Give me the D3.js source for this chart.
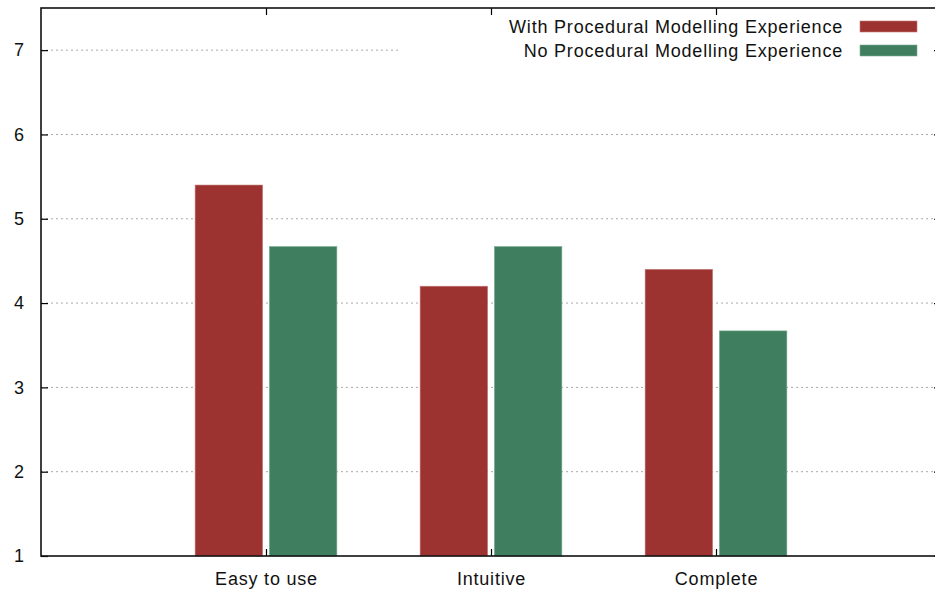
<!DOCTYPE html>
<html>
<head>
<meta charset="utf-8">
<script src="https://cdn.jsdelivr.net/npm/d3@7"></script>
<style>
  html, body { margin: 0; padding: 0; background: #fff; }
  svg { display: block; font-family: "Liberation Sans", Arial, sans-serif; }
</style>
</head>
<body>
<svg id="chart" width="935" height="592"></svg>
<script>
// Survey ratings by experience group
const categories = ["Easy to use", "Intuitive", "Complete"];
const seriesNames = ["With Procedural Modelling Experience", "No Procedural Modelling Experience"];
const withExperience = [5.4, 4.2, 4.4];
const noExperience = [4.67, 4.67, 3.67];
const yTicks = [1, 2, 3, 4, 5, 6, 7];
const colors = ["#9d3330", "#3f7f60"];

const svg = d3.select("#chart");
const plotLeft = 41, plotRight = 941, plotTop = 8, plotBottom = 556;

// Numeric x positions: categories sit at 0,1,2 on a [-1,3] range
const x = d3.scaleLinear().domain([-1, 3]).range([plotLeft, plotRight]);
const y = d3.scaleLinear().domain([1, 7.5]).range([plotBottom, plotTop]);

const barW = 0.3, barGap = 0.015;
const labelFont = { size: 18, spacing: 0.8 };

// Grid lines
svg.append("g").selectAll("line")
  .data(yTicks.filter(d => d > 1))
  .join("line")
  .attr("x1", plotLeft).attr("x2", plotRight)
  .attr("y1", d => y(d)).attr("y2", d => y(d))
  .attr("stroke", "#a8a8a8").attr("stroke-width", 1)
  .attr("stroke-dasharray", "2,3");

// Bars
const series = [withExperience, noExperience];
series.forEach((vals, s) => {
  svg.append("g").selectAll("rect")
    .data(vals)
    .join("rect")
    .attr("x", (d, i) => s === 0 ? x(i - barGap - barW) : x(i + barGap))
    .attr("width", x(barW) - x(0))
    .attr("y", d => y(d))
    .attr("height", d => y(1) - y(d))
    .attr("fill", colors[s])
    .attr("stroke", s === 0 ? "#c47a77" : "#80ab95")
    .attr("stroke-width", 0.6);
});

// Legend box (opaque, hides grid behind it)
svg.append("rect")
  .attr("x", 400).attr("y", plotTop).attr("width", plotRight - 400).attr("height", 58)
  .attr("fill", "#fff");

const legend = svg.append("g");
seriesNames.forEach((name, i) => {
  const cy = 26.5 + i * 24;
  legend.append("text")
    .attr("x", 843).attr("y", cy + 6.5)
    .attr("text-anchor", "end")
    .attr("font-size", labelFont.size)
    .attr("letter-spacing", labelFont.spacing)
    .attr("fill", "#111")
    .text(name);
  legend.append("rect")
    .attr("x", 860).attr("y", cy - 5.5).attr("width", 57).attr("height", 11)
    .attr("fill", colors[i])
    .attr("stroke", i === 0 ? "#c47a77" : "#80ab95")
    .attr("stroke-width", 0.6);
});

// Axes
const yAxis = d3.axisLeft(y).tickValues(yTicks).tickSize(-7).tickPadding(17).tickFormat(d3.format("d"));
const gy = svg.append("g").attr("transform", `translate(${plotLeft},0)`).call(yAxis);
gy.select(".domain").remove();
gy.selectAll(".tick line").attr("stroke", "#000").attr("stroke-width", 1.2);
gy.selectAll(".tick text").attr("font-size", labelFont.size).attr("fill", "#111")
  .attr("font-family", "Liberation Sans, Arial, sans-serif");

// Mirrored ticks on the right border
const gyr = svg.append("g").attr("transform", `translate(${plotRight},0)`)
  .call(d3.axisRight(y).tickValues(yTicks).tickSize(-7).tickFormat(""));
gyr.select(".domain").remove();
gyr.selectAll(".tick line").attr("stroke", "#000").attr("stroke-width", 1.2);

const xAxis = d3.axisBottom(x).tickValues([0, 1, 2]).tickSize(-7).tickPadding(16)
  .tickFormat(d => categories[d]);
const gx = svg.append("g").attr("transform", `translate(0,${plotBottom})`).call(xAxis);
gx.select(".domain").remove();
gx.selectAll(".tick line").attr("stroke", "#000").attr("stroke-width", 1.2);
gx.selectAll(".tick text").attr("font-size", labelFont.size).attr("fill", "#111")
  .attr("letter-spacing", labelFont.spacing)
  .attr("font-family", "Liberation Sans, Arial, sans-serif");

// Mirrored ticks on the top border
const gxt = svg.append("g").attr("transform", `translate(0,${plotTop})`)
  .call(d3.axisTop(x).tickValues([0, 1, 2]).tickSize(-7).tickFormat(""));
gxt.select(".domain").remove();
gxt.selectAll(".tick line").attr("stroke", "#000").attr("stroke-width", 1.2);

// Frame
svg.append("rect")
  .attr("x", plotLeft).attr("y", plotTop).attr("width", plotRight - plotLeft).attr("height", plotBottom - plotTop)
  .attr("fill", "none").attr("stroke", "#111").attr("stroke-width", 1.6);
</script>
</body>
</html>
